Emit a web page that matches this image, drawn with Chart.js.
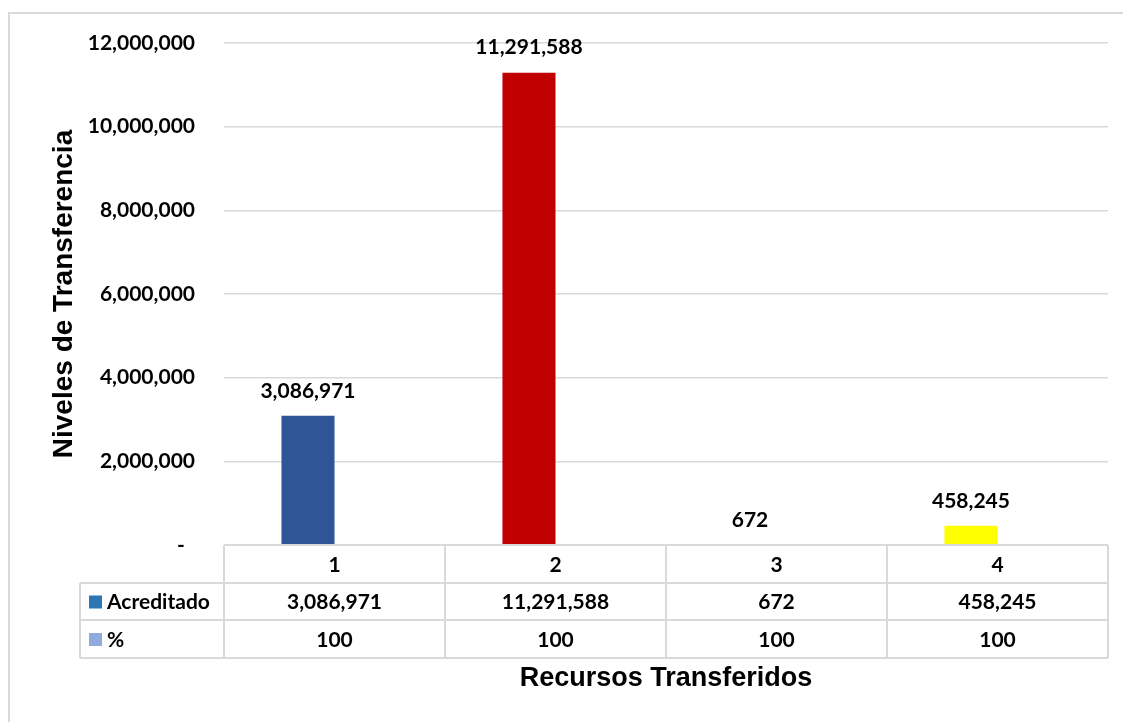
<!DOCTYPE html>
<html>
<head>
<meta charset="utf-8">
<script src="https://cdn.jsdelivr.net/npm/chart.js@4.4.0/dist/chart.umd.min.js"></script>
<style>
  html, body { margin: 0; padding: 0; background: #fff; }
  #wrap { width: 1123px; height: 722px; position: relative; }
</style>
</head>
<body>
<div id="wrap"><canvas id="chart" width="1123" height="722"></canvas></div>
<script>
// Chart data
const categories = ['1', '2', '3', '4'];
const acreditado = [3086971, 11291588, 672, 458245];
const porcentaje = [100, 100, 100, 100];
const barColors = ['#2F5597', '#C00000', '#70AD47', '#FFFF00'];
const yTicks = [0, 2000000, 4000000, 6000000, 8000000, 10000000, 12000000];

const labelFont = 'bold 21px Lato';
const gridColor = '#D9D9D9';

function fmt(n) {
    return n.toLocaleString('en-US');
}

// Draws the value labels, the data table under the axis and the outer frame
const tablePlugin = {
    id: 'dataTable',
    afterDraw(chart) {
        const ctx = chart.ctx;
        const x = chart.scales.x;
        const y = chart.scales.y;
        const area = chart.chartArea;

        ctx.save();

        // outer frame
        ctx.strokeStyle = gridColor;
        ctx.lineWidth = 2;
        ctx.beginPath();
        ctx.moveTo(9, 722);
        ctx.lineTo(9, 13);
        ctx.lineTo(1123, 13);
        ctx.stroke();

        // value labels above the bars
        const meta = chart.getDatasetMeta(0);
        ctx.font = labelFont;
        ctx.fillStyle = '#000';
        ctx.textAlign = 'center';
        ctx.textBaseline = 'middle';
        meta.data.forEach((bar, i) => {
            ctx.fillText(fmt(acreditado[i]), bar.x, y.getPixelForValue(acreditado[i]) - 25);
        });

        // table
        const rowH = [38, 37, 38];
        const rows = [area.bottom];
        rowH.forEach(h => rows.push(rows[rows.length - 1] + h));
        const colW = x.width / categories.length;
        const cols = [];
        for (let i = 0; i <= categories.length; i++) cols.push(x.left + i * colW);
        const tableLeft = 80;

        ctx.strokeStyle = gridColor;
        ctx.lineWidth = 2;
        ctx.beginPath();
        ctx.moveTo(cols[0], rows[0]);
        ctx.lineTo(cols[cols.length - 1], rows[0]);
        for (let r = 1; r < rows.length; r++) {
            ctx.moveTo(tableLeft, rows[r]);
            ctx.lineTo(cols[cols.length - 1], rows[r]);
        }
        ctx.moveTo(tableLeft, rows[1]);
        ctx.lineTo(tableLeft, rows[3]);
        cols.forEach(cx => {
            ctx.moveTo(cx, rows[0]);
            ctx.lineTo(cx, rows[3]);
        });
        ctx.stroke();

        ctx.fillStyle = '#000';
        ctx.font = labelFont;
        ctx.textAlign = 'center';
        categories.forEach((c, i) => {
            const cx = x.getPixelForTick(i);
            ctx.fillText(c, cx, (rows[0] + rows[1]) / 2 + 1);
            ctx.fillText(fmt(acreditado[i]), cx, (rows[1] + rows[2]) / 2 + 1);
            ctx.fillText(fmt(porcentaje[i]), cx, (rows[2] + rows[3]) / 2 + 1);
        });

        // legend keys in the table
        const keys = [['Acreditado', '#2E75B6'], ['%', '#8FAADC']];
        keys.forEach((k, i) => {
            const my = (rows[i + 1] + rows[i + 2]) / 2;
            ctx.fillStyle = k[1];
            ctx.fillRect(89, my - 6, 13, 13);
            ctx.fillStyle = '#000';
            ctx.textAlign = 'left';
            ctx.fillText(k[0], 107, my + 1);
        });

        // x axis title
        ctx.font = 'bold 27px "Liberation Sans"';
        ctx.textAlign = 'center';
        ctx.fillText('Recursos Transferidos', (cols[0] + cols[cols.length - 1]) / 2, 679);

        ctx.restore();
    }
};

new Chart(document.getElementById('chart'), {
    type: 'bar',
    data: {
        labels: categories,
        datasets: [
            {
                label: 'Acreditado',
                data: acreditado,
                backgroundColor: barColors,
                categoryPercentage: 0.48,
                barPercentage: 1
            },
            {
                label: '%',
                data: porcentaje,
                backgroundColor: '#8FAADC',
                categoryPercentage: 0.48,
                barPercentage: 1
            }
        ]
    },
    options: {
        responsive: false,
        animation: false,
        layout: {
            padding: { left: 0, right: 15, top: 43, bottom: 0 }
        },
        plugins: {
            legend: { display: false },
            tooltip: { enabled: false }
        },
        scales: {
            x: {
                grid: { display: false },
                border: { display: false },
                ticks: { display: false },
                afterFit: function(scale) {
                    scale.height = 177;
                }
            },
            y: {
                min: 0,
                max: 12000000,
                afterBuildTicks: function(scale) {
                    scale.ticks = yTicks.map(v => ({ value: v }));
                },
                grid: {
                    color: gridColor,
                    lineWidth: 1.5,
                    drawTicks: false
                },
                border: { display: false },
                ticks: {
                    color: '#000',
                    font: { family: 'Lato', size: 21, weight: 'bold' },
                    padding: 29,
                    callback: function(value) {
                        return value === 0 ? '-  ' : fmt(value);
                    }
                },
                title: {
                    display: true,
                    text: 'Niveles de Transferencia',
                    color: '#000',
                    font: { family: 'Liberation Sans', size: 28, weight: 'bold' },
                    padding: { top: 47, bottom: 0 }
                },
                afterFit: function(scale) {
                    scale.width = 224;
                }
            }
        }
    },
    plugins: [tablePlugin]
});
</script>
</body>
</html>
